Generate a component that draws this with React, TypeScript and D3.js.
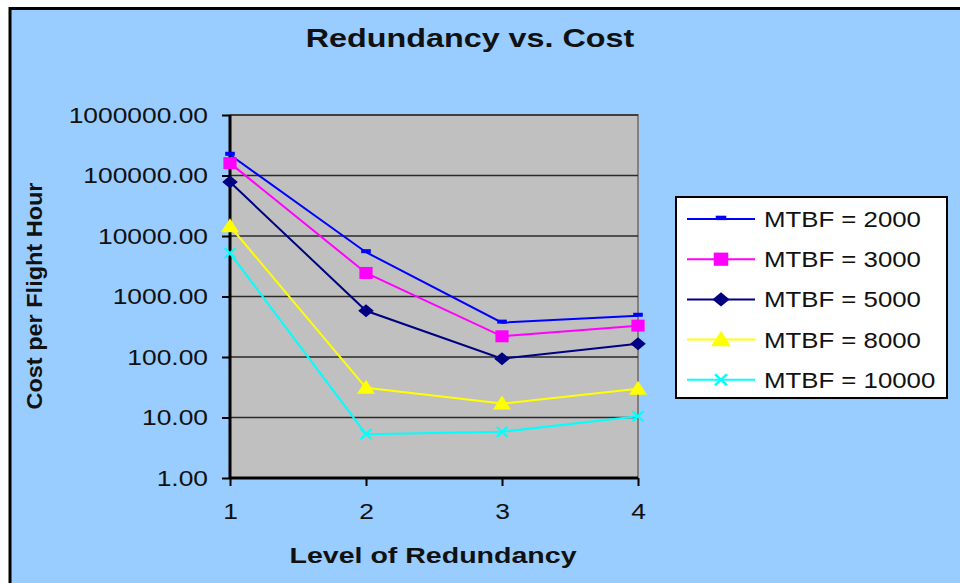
import { useEffect, useRef } from "react";
import * as d3 from "d3";

const levels = [1, 2, 3, 4];
const seriesNames = ["MTBF = 2000", "MTBF = 3000", "MTBF = 5000", "MTBF = 8000", "MTBF = 10000"];
const mtbf2000 = [220000, 5400, 370, 480];
const mtbf3000 = [160000, 2450, 220, 330];
const mtbf5000 = [78000, 580, 94, 165];
const mtbf8000 = [14500, 31, 17, 30];
const mtbf10000 = [5200, 5.3, 5.8, 10.5];
const yTicks = [1, 10, 100, 1000, 10000, 100000, 1000000];

const colors = ["#0000FF", "#FF00FF", "#000080", "#FFFF00", "#00FFFF"];
const markers = ["dash", "square", "diamond", "triangle", "x"];

const W = 960;
const H = 583;
const SX = 1.2; // the original picture is stretched sideways
const FONT = "Arial, 'Liberation Sans', sans-serif";

// draws one marker at 0,0 inside g
function drawMarker(g: any, kind: string, color: string, k = 1) {
  const s = g.append("g").attr("transform", `scale(${SX * k},${k})`);
  if (kind === "dash") {
    s.append("rect").attr("x", -4).attr("y", -3).attr("width", 8).attr("height", 4).attr("fill", color);
  } else if (kind === "square") {
    s.append("rect").attr("x", -5.5).attr("y", -6).attr("width", 11).attr("height", 12).attr("fill", color);
  } else if (kind === "diamond") {
    s.append("path").attr("d", "M0,-6.5L6.5,0L0,6.5L-6.5,0Z").attr("fill", color);
  } else if (kind === "triangle") {
    s.append("path").attr("d", "M0,-8L7.5,6L-7.5,6Z").attr("fill", color);
  } else {
    s.append("path").attr("d", "M-4.5,-5L4.5,5M-4.5,5L4.5,-5").attr("stroke", color).attr("stroke-width", 2);
  }
}

const App = () => {
  const svgRef = useRef(null);

  useEffect(() => {
    const svg = d3.select(svgRef.current);
    svg.selectAll("*").remove();
    const data = [mtbf2000, mtbf3000, mtbf5000, mtbf8000, mtbf10000];
    const margin = { left: 230, right: 638, top: 115, bottom: 478 };

    const x = d3.scaleLinear().domain([1, 4]).range([margin.left, margin.right]);
    const y = d3.scaleLog().domain([1, 1000000]).range([margin.bottom, margin.top]);

    // background + frame
    svg.append("rect").attr("x", 0).attr("y", 0).attr("width", W).attr("height", H).attr("fill", "#ffffff");
    svg.append("rect").attr("x", 11).attr("y", 10).attr("width", W - 11).attr("height", H - 10).attr("fill", "#99CCFF");
    svg.append("line").attr("x1", 10).attr("x2", 10).attr("y1", 7).attr("y2", H).attr("stroke", "#000").attr("stroke-width", 3);
    svg.append("line").attr("x1", 9).attr("x2", W).attr("y1", 8.5).attr("y2", 8.5).attr("stroke", "#000").attr("stroke-width", 3);

    // plot area
    svg.append("rect")
      .attr("x", margin.left).attr("y", margin.top)
      .attr("width", margin.right - margin.left).attr("height", margin.bottom - margin.top)
      .attr("fill", "#C0C0C0").attr("stroke", "#808080").attr("stroke-width", 2);

    svg.append("g").selectAll("line").data(yTicks.slice(1)).enter().append("line")
      .attr("x1", margin.left).attr("x2", margin.right)
      .attr("y1", (d) => y(d)).attr("y2", (d) => y(d))
      .attr("stroke", "#2a2a2a").attr("stroke-width", 1.4);

    // axes
    const yAxis = d3.axisLeft(y).tickValues(yTicks).tickFormat((d: any) => d3.format(".2f")(d)).tickSize(8);
    const gy = svg.append("g").attr("transform", `translate(${margin.left},0)`).call(yAxis);
    const xAxis = d3.axisBottom(x).tickValues(levels).tickFormat(d3.format("d")).tickSize(8).tickPadding(17);
    const gx = svg.append("g").attr("transform", `translate(0,${margin.bottom})`).call(xAxis);
    [gy, gx].forEach((g) => {
      g.select(".domain").attr("stroke", "#000").attr("stroke-width", 3);
      g.selectAll(".tick line").attr("stroke", "#000").attr("stroke-width", 2);
      g.selectAll("text").attr("font-family", FONT).attr("font-size", 22).attr("fill", "#111");
    });
    gy.selectAll("text").attr("x", -22 / SX).attr("transform", `scale(${SX},1)`);
    gx.selectAll("text").attr("transform", `scale(${SX},1)`);
    gx.select(".domain").attr("d", `M${margin.left},0H${margin.right}`);
    gy.select(".domain").attr("d", `M0,${margin.bottom}V${margin.top}`);

    // series
    const line = d3.line<number>().x((_, i) => x(levels[i])).y((d) => y(d));
    data.forEach((vals, s) => {
      svg.append("path").attr("d", line(vals)).attr("fill", "none").attr("stroke", colors[s]).attr("stroke-width", 2);
      vals.forEach((v, i) => {
        const g = svg.append("g").attr("transform", `translate(${x(levels[i])},${y(v)})`);
        drawMarker(g, markers[s], colors[s]);
      });
    });

    // titles
    svg.append("g").attr("transform", `translate(470,47) scale(1.22,1)`)
      .append("text").attr("text-anchor", "middle")
      .attr("font-family", FONT).attr("font-weight", "bold").attr("font-size", 26.5).attr("fill", "#111")
      .text("Redundancy vs. Cost");
    svg.append("text").attr("x", 433).attr("y", 563).attr("text-anchor", "middle")
      .attr("font-family", FONT).attr("font-weight", "bold").attr("font-size", 22.5).attr("fill", "#111")
      .attr("textLength", 287).attr("lengthAdjust", "spacingAndGlyphs")
      .text("Level of Redundancy");
    svg.append("text").attr("transform", "translate(42,296) rotate(-90)").attr("text-anchor", "middle")
      .attr("font-family", FONT).attr("font-weight", "bold").attr("font-size", 22.5).attr("fill", "#111")
      .attr("textLength", 227).attr("lengthAdjust", "spacingAndGlyphs")
      .text("Cost per Flight Hour");

    // legend
    const leg = svg.append("g");
    leg.append("rect").attr("x", 676).attr("y", 197).attr("width", 271).attr("height", 201)
      .attr("fill", "#fff").attr("stroke", "#000").attr("stroke-width", 2);
    seriesNames.forEach((name, s) => {
      const ly = 219 + s * 40.2;
      leg.append("line").attr("x1", 687).attr("x2", 755).attr("y1", ly).attr("y2", ly).attr("stroke", colors[s]).attr("stroke-width", 2);
      const g = leg.append("g").attr("transform", `translate(721,${ly})`);
      drawMarker(g, markers[s], colors[s], 1.1);
      leg.append("g").attr("transform", `translate(764,${ly + 8}) scale(${SX},1)`)
        .append("text").attr("font-family", FONT)
        .attr("font-size", 21.5).attr("fill", "#111").text(name);
    });
  }, []);

  return <svg ref={svgRef} width={W} height={H} style={{ position: "absolute", left: 0, top: 0 }} />;
};

export default App;
